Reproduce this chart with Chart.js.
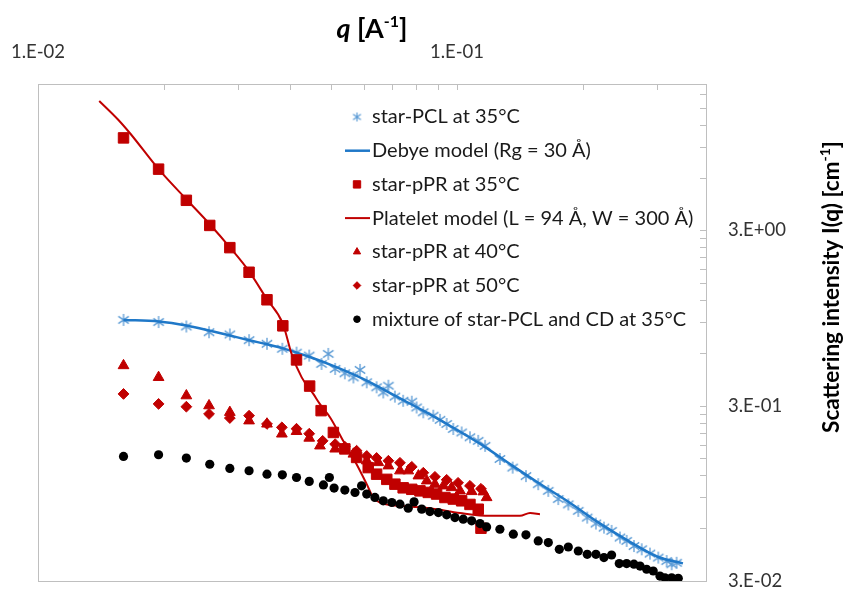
<!DOCTYPE html>
<html>
<head>
<meta charset="utf-8">
<script src="https://cdn.jsdelivr.net/npm/chart.js@4.4.0/dist/chart.umd.min.js"></script>
<style>
  html, body { margin: 0; padding: 0; background: #fff; }
  #wrap { width: 843px; height: 590px; position: relative; }
</style>
</head>
<body>
<div id="wrap"><canvas id="saxsChart"></canvas></div>
<script>
// q [1/A] and I(q) [1/cm]

const pclQ = [0.0160, 0.0194, 0.0226, 0.0256, 0.0287, 0.0319, 0.0352, 0.0383, 0.0414, 0.0444,
  0.0475, 0.0493, 0.0512, 0.0540, 0.0566, 0.0587, 0.0609, 0.0643, 0.0667, 0.0686,
  0.0711, 0.0744, 0.0780, 0.0801, 0.0831, 0.0878, 0.0911, 0.0945, 0.0980, 0.1026,
  0.1074, 0.1124, 0.1167, 0.1266, 0.1358, 0.1461, 0.1563, 0.1652, 0.1745, 0.1844,
  0.1948, 0.2046, 0.2146, 0.2243, 0.2339, 0.2449, 0.2541, 0.2645, 0.2760, 0.2888,
  0.3023, 0.3166, 0.3254, 0.3344];
const pclI = [0.925, 0.900, 0.849, 0.787, 0.764, 0.709, 0.676, 0.633, 0.602, 0.579,
  0.519, 0.592, 0.486, 0.459, 0.435, 0.480, 0.408, 0.382, 0.357, 0.390,
  0.338, 0.320, 0.316, 0.293, 0.275, 0.263, 0.249, 0.236, 0.221, 0.211,
  0.198, 0.189, 0.177, 0.149, 0.133, 0.119, 0.107, 0.098, 0.088, 0.082,
  0.0754, 0.069, 0.0638, 0.0605, 0.0579, 0.0531, 0.0508, 0.0475, 0.0455, 0.043,
  0.0408, 0.039, 0.0374, 0.0381];

const debyeQ = [0.0160, 0.0194, 0.0226, 0.0256, 0.0287, 0.0319, 0.0352, 0.0383, 0.0442, 0.0512,
  0.0609, 0.0711, 0.0831, 0.0980, 0.1156, 0.1358, 0.1563, 0.1844, 0.2146, 0.2541,
  0.3023, 0.3462];
const debyeI = [0.925, 0.906, 0.860, 0.805, 0.754, 0.709, 0.672, 0.639, 0.572, 0.501,
  0.417, 0.342, 0.281, 0.2245, 0.177, 0.136, 0.109, 0.0849, 0.0661, 0.0515,
  0.0411, 0.0378];

const pr35Q = [0.0160, 0.0194, 0.0226, 0.0257, 0.0287, 0.0319, 0.0352, 0.0384, 0.0414, 0.0445,
  0.0474, 0.0507, 0.0540, 0.0576, 0.0614, 0.0643, 0.0680, 0.0711, 0.0744, 0.0780,
  0.0816, 0.0854, 0.0894, 0.0936, 0.0980, 0.1026, 0.1074, 0.1124, 0.1141];
const pr35I = [10.1, 6.70, 4.45, 3.20, 2.39, 1.73, 1.205, 0.856, 0.547, 0.388,
  0.281, 0.211, 0.170, 0.152, 0.133, 0.122, 0.114, 0.107, 0.102, 0.100,
  0.098, 0.096, 0.094, 0.0898, 0.088, 0.086, 0.082, 0.077, 0.060];

const plateletQ = [0.0140, 0.0155, 0.0166, 0.0194, 0.0226, 0.0257, 0.0287, 0.0319, 0.0351, 0.0384,
  0.0403, 0.0426, 0.0454, 0.0471, 0.0498, 0.0535, 0.0576, 0.0609, 0.0631, 0.0655,
  0.0731, 0.0862, 0.1017, 0.1199, 0.1314, 0.1414, 0.1494, 0.1578];
const plateletI = [16.4, 12.9, 10.7, 6.70, 4.51, 3.25, 2.40, 1.75, 1.226, 0.882,
  0.592, 0.435, 0.350, 0.306, 0.257, 0.189, 0.139, 0.107, 0.0898, 0.084,
  0.0805, 0.078, 0.0733, 0.0706, 0.0706, 0.0706, 0.0733, 0.0721];

const pr40Q = [0.0160, 0.0194, 0.0226, 0.0256, 0.0287, 0.0319, 0.0352, 0.0382, 0.0414, 0.0444,
  0.0471, 0.0512, 0.0566, 0.0609, 0.0649, 0.0686, 0.0731, 0.0765, 0.0809, 0.0847,
  0.0886, 0.0928, 0.0971, 0.1017, 0.1084, 0.1156, 0.1177];
const pr40I = [0.508, 0.435, 0.342, 0.300, 0.275, 0.246, 0.236, 0.207, 0.214, 0.196,
  0.177, 0.170, 0.159, 0.1455, 0.1422, 0.1362, 0.1276, 0.1276, 0.1194, 0.1118,
  0.107, 0.1047, 0.1024, 0.098, 0.0972, 0.0968, 0.0898];

const pr50Q = [0.0160, 0.0194, 0.0226, 0.0256, 0.0287, 0.0319, 0.0352, 0.0382, 0.0414, 0.0444,
  0.0478, 0.0512, 0.0540, 0.0576, 0.0609, 0.0643, 0.0686, 0.0731, 0.0780, 0.0831,
  0.0886, 0.0945, 0.1006, 0.1074, 0.1141];
const pr50I = [0.350, 0.307, 0.296, 0.269, 0.255, 0.263, 0.236, 0.2256, 0.2215, 0.2076,
  0.189, 0.181, 0.175, 0.166, 0.155, 0.151, 0.1455, 0.1417, 0.1344, 0.1243,
  0.1178, 0.1133, 0.1089, 0.1047, 0.1007];

const mixQ = [0.0160, 0.0194, 0.0226, 0.0257, 0.0287, 0.0319, 0.0352, 0.0383, 0.0414, 0.0444,
  0.0480, 0.0496, 0.0509, 0.0540, 0.0571, 0.0592, 0.0609, 0.0637, 0.0667, 0.0699,
  0.0731, 0.0765, 0.0790, 0.0824, 0.0862, 0.0903, 0.0945, 0.0989, 0.1035, 0.1084,
  0.1135, 0.1177, 0.1266, 0.1363, 0.1461, 0.1563, 0.1652, 0.1755, 0.1844, 0.1948,
  0.2046, 0.2146, 0.2243, 0.2339, 0.2440, 0.2541, 0.2645, 0.2735, 0.2836, 0.2941,
  0.3051, 0.3136, 0.3254, 0.3374];
const mixI = [0.154, 0.1575, 0.1507, 0.139, 0.1315, 0.1276, 0.122, 0.121, 0.1168, 0.111,
  0.106, 0.1168, 0.1016, 0.099, 0.0959, 0.1047, 0.0939, 0.0899, 0.086, 0.0841,
  0.0823, 0.0781, 0.0848, 0.0771, 0.0747, 0.0737, 0.0715, 0.069, 0.0676, 0.0661,
  0.0638, 0.061, 0.0592, 0.0555, 0.055, 0.0508, 0.0497, 0.0455, 0.0469, 0.0445,
  0.0426, 0.0426, 0.0408, 0.0422, 0.0377, 0.0377, 0.0374, 0.0365, 0.035, 0.0342,
  0.032, 0.0313, 0.0313, 0.0311];

const seriesLabels = [
  'star-PCL at 35°C',
  'Debye model (Rg = 30 Å)',
  'star-pPR at 35°C',
  'Platelet model (L = 94 Å, W = 300 Å)',
  'star-pPR at 40°C',
  'star-pPR at 50°C',
  'mixture of star-PCL and CD at 35°C'
];

const xTickVals = [0.01, 0.02, 0.03, 0.04, 0.05, 0.06, 0.07, 0.08, 0.09, 0.1, 0.2, 0.3];
const xMajorVals = [0.01, 0.1];
const xMajorLabels = ['1.E-02', '1.E-01'];
const yTickVals = [0.03, 0.06, 0.09, 0.12, 0.15, 0.18, 0.21, 0.24, 0.27,
  0.3, 0.6, 0.9, 1.2, 1.5, 1.8, 2.1, 2.4, 2.7, 3, 6, 9, 12, 15, 18];
const yMajorVals = [0.03, 0.3, 3];
const yMajorLabels = ['3.E-02', '3.E-01', '3.E+00'];

const RED = '#C00000';
const STAR_BLUE = '#5B9BD5';
const LINE_BLUE = '#1F78C8';
const FONT = 'Lato, "Open Sans", sans-serif';

const pairs = (qs, is) => qs.map((q, i) => ({ x: q, y: is[i] }));

// asterisk marker like the spreadsheet one (X plus vertical bar)
const makeAsterisk = (size, color, lw) => {
  const c = document.createElement('canvas');
  c.width = size; c.height = size;
  const g = c.getContext('2d');
  const m = size / 2, r = size / 2 - 1;
  g.strokeStyle = color;
  g.lineWidth = lw;
  g.beginPath();
  g.moveTo(m, m - r); g.lineTo(m, m + r);
  g.moveTo(m - r * 0.87, m - r * 0.6); g.lineTo(m + r * 0.87, m + r * 0.6);
  g.moveTo(m - r * 0.87, m + r * 0.6); g.lineTo(m + r * 0.87, m - r * 0.6);
  g.stroke();
  return c;
};
const starMark = makeAsterisk(14, STAR_BLUE, 1.3);
const starMarkSmall = makeAsterisk(11, STAR_BLUE, 1.2);

const legendRows = [
  { kind: 'point', style: starMarkSmall, radius: 5, color: STAR_BLUE },
  { kind: 'line', color: LINE_BLUE, width: 2.5 },
  { kind: 'point', style: 'rect', radius: 5.2, color: RED },
  { kind: 'line', color: RED, width: 2 },
  { kind: 'point', style: 'triangle', radius: 4.2, color: RED },
  { kind: 'point', style: 'rectRot', radius: 3.8, color: RED },
  { kind: 'point', style: 'circle', radius: 3.3, color: '#000' }
];

const drawParts = (ctx, parts, cx, baseY) => {
  let total = 0;
  parts.forEach(p => { ctx.font = p.font; total += ctx.measureText(p.t).width; });
  let x = cx - total / 2;
  parts.forEach(p => {
    ctx.font = p.font;
    ctx.fillText(p.t, x, baseY + (p.dy || 0));
    x += ctx.measureText(p.t).width;
  });
};

const decor = {
  id: 'decor',
  beforeDatasetsDraw(chart) {
    const { ctx, chartArea: a } = chart;
    const xs = chart.scales.x, ys = chart.scales.y;
    ctx.save();
    ctx.strokeStyle = '#BFBFBF';
    ctx.lineWidth = 1;
    ctx.strokeRect(a.left + 0.5, a.top + 0.5, a.right - a.left, a.bottom - a.top);
    ctx.beginPath();
    xTickVals.forEach(v => {
      const px = Math.round(xs.getPixelForValue(v)) + 0.5;
      ctx.moveTo(px, a.top); ctx.lineTo(px, a.top + 6);
    });
    yTickVals.forEach(v => {
      const py = Math.round(ys.getPixelForValue(v)) + 0.5;
      ctx.moveTo(a.right - 6, py); ctx.lineTo(a.right, py);
    });
    ctx.stroke();

    // tick labels
    ctx.fillStyle = '#333';
    ctx.font = '18.5px ' + FONT;
    ctx.textBaseline = 'middle';
    ctx.textAlign = 'center';
    xMajorVals.forEach((v, i) => ctx.fillText(xMajorLabels[i], xs.getPixelForValue(v), 52));
    ctx.textAlign = 'left';
    yMajorVals.forEach((v, i) => ctx.fillText(yMajorLabels[i], a.right + 22, ys.getPixelForValue(v)));
    ctx.restore();
  },
  afterDraw(chart) {
    const { ctx, chartArea: a } = chart;
    ctx.save();
    ctx.fillStyle = '#000';
    ctx.textAlign = 'left';
    ctx.textBaseline = 'alphabetic';
    // top axis title
    drawParts(ctx, [
      { t: 'q', font: 'italic bold 27px ' + FONT },
      { t: ' [A', font: 'bold 27px ' + FONT },
      { t: '-1', font: 'bold 16px ' + FONT, dy: -11 },
      { t: ']', font: 'bold 27px ' + FONT }
    ], (a.left + a.right) / 2, 38);
    // right axis title
    ctx.save();
    ctx.translate(831, 287);
    ctx.rotate(-Math.PI / 2);
    drawParts(ctx, [
      { t: 'Scattering intensity I(q) [cm', font: 'bold 22.5px ' + FONT },
      { t: '-1', font: 'bold 14px ' + FONT, dy: -9 },
      { t: ']', font: 'bold 22.5px ' + FONT }
    ], 0, 8);
    ctx.restore();

    // legend inside the plot
    const lx = 357, tx = 372, y0 = 117, dy = 33.7;
    legendRows.forEach((row, i) => {
      const y = y0 + i * dy;
      if (row.kind === 'line') {
        ctx.strokeStyle = row.color;
        ctx.lineWidth = row.width;
        ctx.beginPath();
        ctx.moveTo(lx - 12, y); ctx.lineTo(lx + 13, y);
        ctx.stroke();
      } else {
        ctx.fillStyle = row.color;
        ctx.strokeStyle = row.color;
        ctx.lineWidth = 1;
        Chart.helpers.drawPoint(ctx, { pointStyle: row.style, radius: row.radius, rotation: 0, borderWidth: 1 }, lx, y);
      }
      ctx.fillStyle = '#1a1a1a';
      ctx.font = '20px ' + FONT;
      ctx.textBaseline = 'middle';
      ctx.fillText(seriesLabels[i], tx, y);
    });
    ctx.restore();
  }
};

const ctx = document.getElementById('saxsChart').getContext('2d');
new Chart(ctx, {
  type: 'scatter',
  data: {
    datasets: [
      {
        label: seriesLabels[0], data: pairs(pclQ, pclI), order: 7,
        pointStyle: starMark, pointRadius: 7, showLine: false
      },
      {
        label: seriesLabels[1], data: pairs(debyeQ, debyeI), order: 6,
        showLine: true, pointRadius: 0, borderColor: LINE_BLUE, borderWidth: 2.5,
        cubicInterpolationMode: 'monotone'
      },
      {
        label: seriesLabels[2], data: pairs(pr35Q, pr35I), order: 5,
        pointStyle: 'rect', pointRadius: 7.4, backgroundColor: RED, borderColor: RED, borderWidth: 1,
        showLine: false
      },
      {
        label: seriesLabels[3], data: pairs(plateletQ, plateletI), order: 4,
        showLine: true, pointRadius: 0, borderColor: RED, borderWidth: 2,
        cubicInterpolationMode: 'monotone'
      },
      {
        label: seriesLabels[4], data: pairs(pr40Q, pr40I), order: 3,
        pointStyle: 'triangle', pointRadius: 6.2, backgroundColor: RED, borderColor: RED, borderWidth: 1,
        showLine: false
      },
      {
        label: seriesLabels[5], data: pairs(pr50Q, pr50I), order: 2,
        pointStyle: 'rectRot', pointRadius: 5.4, backgroundColor: RED, borderColor: RED, borderWidth: 1,
        showLine: false
      },
      {
        label: seriesLabels[6], data: pairs(mixQ, mixI), order: 1,
        pointStyle: 'circle', pointRadius: 4.6, backgroundColor: '#000', borderColor: '#000', borderWidth: 0,
        showLine: false
      }
    ]
  },
  options: {
    responsive: true,
    maintainAspectRatio: false,
    animation: false,
    layout: { padding: { left: 38, right: 0, top: 0, bottom: 9 } },
    plugins: {
      legend: { display: false },
      tooltip: { enabled: false }
    },
    scales: {
      x: {
        type: 'logarithmic',
        position: 'top',
        min: 0.01,
        max: 0.393,
        grid: { display: false },
        border: { display: false },
        ticks: { display: false },
        afterBuildTicks: scale => { scale.ticks = xTickVals.map(v => ({ value: v })); },
        afterFit: scale => { scale.height = 84; }
      },
      y: {
        type: 'logarithmic',
        position: 'right',
        min: 0.03,
        max: 20.5,
        grid: { display: false },
        border: { display: false },
        ticks: { display: false },
        afterBuildTicks: scale => { scale.ticks = yTickVals.map(v => ({ value: v })); },
        afterFit: scale => { scale.width = 137; }
      }
    }
  },
  plugins: [decor]
});
</script>
</body>
</html>
